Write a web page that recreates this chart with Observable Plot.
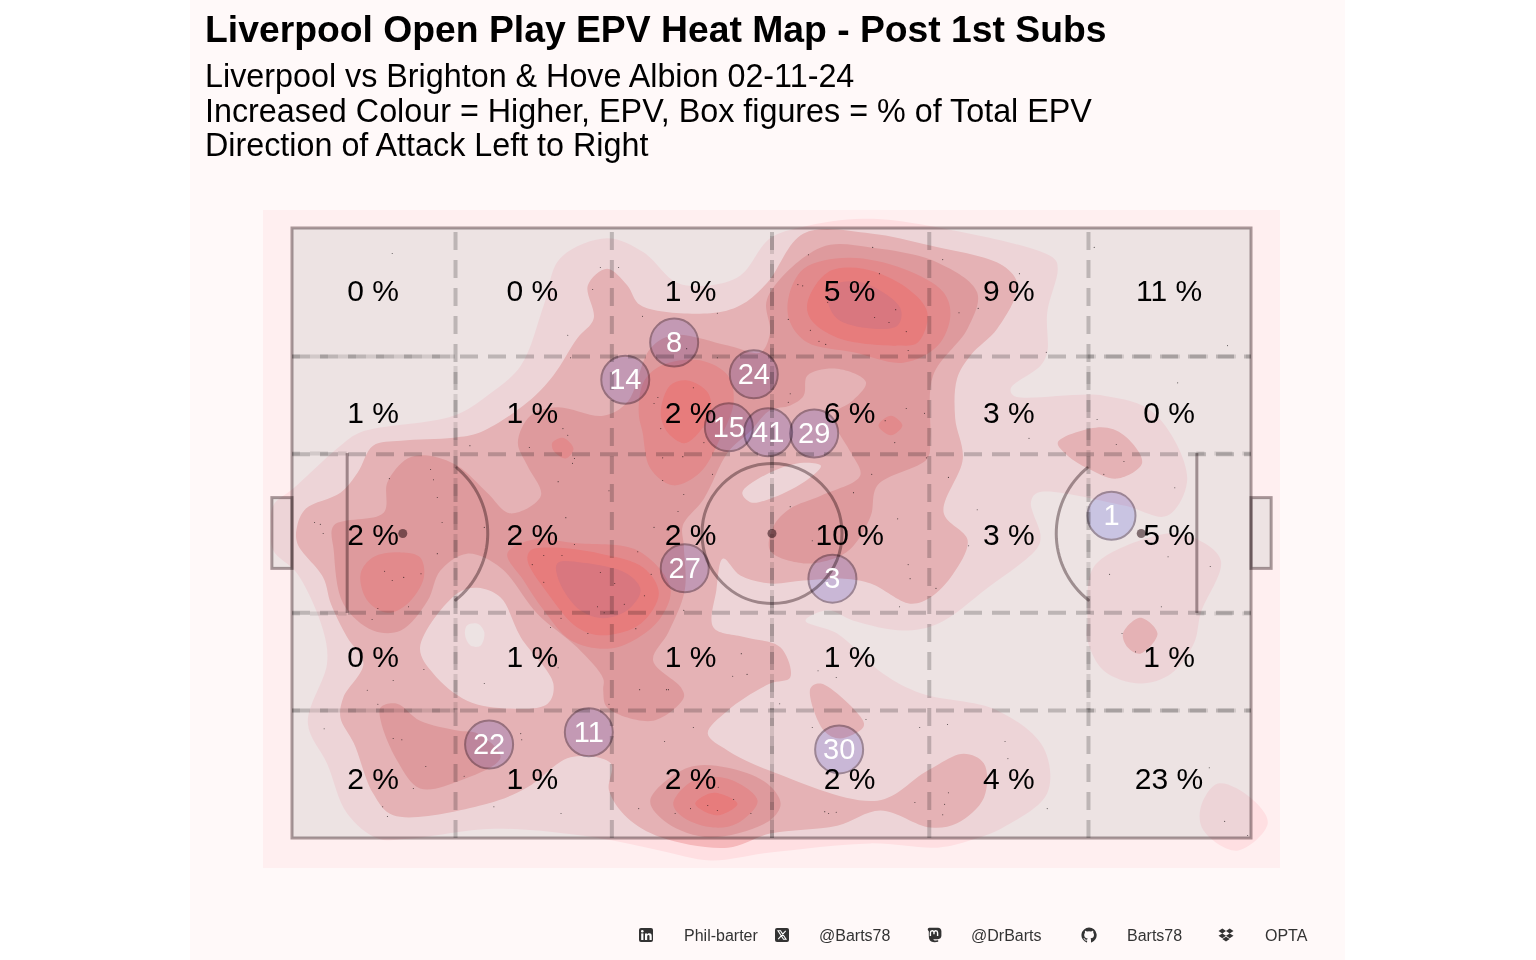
<!DOCTYPE html>
<html><head><meta charset="utf-8">
<script src="https://cdn.jsdelivr.net/npm/d3@7"></script>
<script src="https://cdn.jsdelivr.net/npm/@observablehq/plot@0.6"></script>
<style>
html,body{margin:0;padding:0;background:#fff;overflow:hidden}
#panel{position:absolute;left:190px;top:0;width:1155px;height:960px;background:#fff9f9;font-family:"Liberation Sans",Arial,sans-serif;color:#000}
.t{position:absolute;white-space:nowrap}
#title{left:15px;top:9px;font-size:37.3px;font-weight:700;line-height:40px}
.sub{left:15px;font-size:32.3px;line-height:36px}
.cap{font-size:16px;color:#333;top:927px;line-height:18px}
.ico{position:absolute;top:927px;width:16px;height:16px}
#chart{position:absolute;left:73px;top:210px}
</style></head><body>
<div id="panel">
<div class="t" id="title">Liverpool Open Play EPV Heat Map - Post 1st Subs</div>
<div class="t sub" style="top:58px">Liverpool vs Brighton &amp; Hove Albion 02-11-24</div>
<div class="t sub" style="top:93px">Increased Colour = Higher, EPV, Box figures = % of Total EPV</div>
<div class="t sub" style="top:127px">Direction of Attack Left to Right</div>
<div id="chart"></div>
<svg class="ico" style="left:448px" viewBox="0 0 16 16"><rect x="1" y="1" width="14" height="14" rx="2" fill="#333"/><rect x="3.2" y="6.4" width="2.2" height="6.6" fill="#fff"/><circle cx="4.3" cy="4.3" r="1.3" fill="#fff"/><path d="M7 6.4h2.1v1c.4-.7 1.2-1.2 2.2-1.2 2 0 2.4 1.3 2.4 3V13h-2.2V9.700c0-.8 0-1.700-1.100-1.700s-1.200.8-1.200 1.600V13H7z" fill="#fff"/></svg>
<span class="t cap" style="left:494px">Phil-barter</span>
<svg class="ico" style="left:584px" viewBox="0 0 16 16"><rect x="1" y="1" width="14" height="14" rx="2" fill="#333"/><path d="M4 3.800h2.500l5.500 8.400H9.500zM11.700 3.800l-7.500 8.400" stroke="#fff" stroke-width="1.100" fill="none"/></svg>
<span class="t cap" style="left:629px">@Barts78</span>
<svg class="ico" style="left:736px" viewBox="0 0 16 16"><path d="M4 .8h8c2 0 3.400 1.400 3.400 3.400v4.600c0 2-1.500 3.200-3.500 3.400-1.800.2-3.200.2-4.500 0 .1 1 1.300 1.500 4.800 1.100v1.500c-4.300.9-8 .3-9-2.800-.3-1.300-.4-2.600-.4-4V4.200C.8 2.200 2 .8 4 .8z" fill="#333"/><path d="M4.400 9V5.800c0-2.600 3.600-2.800 3.600-.2v1.600-1.600c0-2.600 3.600-2.400 3.600.2V9" stroke="#fff" stroke-width="1.400" fill="none"/></svg>
<span class="t cap" style="left:781px">@DrBarts</span>
<svg class="ico" style="left:891px" viewBox="0 0 16 16"><path d="M8 .6a7.600 7.600 0 0 0-2.400 14.800c.4.1.5-.2.5-.4v-1.400c-2.100.5-2.600-.9-2.600-.9-.3-.9-.8-1.100-.8-1.100-.7-.5.1-.5.1-.5.8.1 1.200.8 1.200.8.7 1.200 1.800.8 2.200.6.100-.5.300-.8.500-1-1.700-.2-3.500-.8-3.500-3.700 0-.8.300-1.500.8-2-.1-.2-.3-1 .1-2 0 0 .6-.2 2.100.8a7 7 0 0 1 3.800 0c1.500-1 2.100-.8 2.100-.8.4 1 .2 1.800.1 2 .5.500.8 1.200.8 2 0 2.900-1.800 3.500-3.500 3.700.3.200.5.700.5 1.400V15c0 .2.100.5.500.4A7.600 7.600 0 0 0 8 .6z" fill="#333"/></svg>
<span class="t cap" style="left:937px">Barts78</span>
<svg class="ico" style="left:1028px" viewBox="0 0 16 16"><path d="M4.300 1.500 0.500 4l3.800 2.400L8 4zM11.700 1.500 8 4l3.700 2.400L15.500 4zM.5 8.800l3.800 2.500L8 8.800 4.300 6.400zM11.700 6.400 8 8.800l3.700 2.500 3.800-2.500zM4.300 12.100 8 14.600l3.700-2.500L8 9.700z" fill="#333"/></svg>
<span class="t cap" style="left:1075px">OPTA</span>
</div>
<script>
// ---- density contour outlines (pitch units, 0-100) ----
const level1Main=[[-2,54.6],[.1,57.4],[5,64.4],[7.1,66.6],[16.8,69.3],[20.3,72.6],[23.8,77.5],[26.2,87.4],[27.9,95.1],[32.8,98.4],[36.6,96.1],[40.1,91.1],[43.6,90.7],[46.7,92.3],[49.8,98.4],[53.3,100.3],[59.5,101.6],[66.2,100.5],[79.4,95.1],[79.8,93.4],[78.7,86.2],[78.7,79.7],[78,77.5],[74.9,73.8],[75.2,72.6],[84.6,72.6],[89.8,69.8],[93.3,59],[91.2,52.9],[86.7,54.6],[77.7,56.7],[77,55.1],[78,49.7],[77.7,47.7],[72.5,41.1],[67.3,35.2],[63.7,34.1],[58.5,35.7],[55.8,37.4],[53.5,35.7],[56.8,33.6],[61.6,27],[65.5,23.8],[73.5,21],[78.3,14.9],[78.7,7.4],[74.1,1.8],[70.7,-.3],[67.3,-1.5],[60.3,-.8],[49.8,-2.3],[43.6,-3.6],[38.4,-2],[31.4,.2],[21,1.6],[12.3,0],[8.9,0],[5.7,4.1],[3.6,12.3],[1.6,18.9],[3.6,28.7],[3.2,34.1],[.5,43.4],[-2,47.2],[-2.2,50.8]];
const level1Right=[[82.9,35.7],[83.2,43.4],[84.6,46.1],[91.2,50],[94,49.3],[96.8,45.6],[94.7,36.9],[94,32],[91.6,27],[88.4,25.4],[84.6,27.5],[82.9,32.5]];
const level1Corner=[[96.5,9],[99.9,6.7],[101.7,2.5],[98.5,-2],[95,1.3],[94.7,5.1]];
const level2Main=[[.5,51.3],[1.4,54.1],[5,56.7],[6.8,60],[8.4,64.4],[11.3,65.2],[16.8,65.7],[19.6,66.6],[24.5,71.5],[27.2,75.9],[29.7,82],[31.4,85.2],[30.8,90.7],[32.8,93.4],[34.9,90.7],[36.3,87.4],[43.6,86.1],[46.7,87.4],[49.5,91.1],[53.3,99.2],[60.3,99.2],[66.5,97.2],[74.1,93.9],[75.6,90.7],[73.5,83.6],[70.7,79.2],[69.3,75.4],[69.1,68.9],[69.9,62.3],[67.9,53.4],[70.4,48.9],[68.9,43.4],[66.5,39.5],[64.4,38.5],[60.3,41.8],[57.5,42.6],[53.3,42.3],[49.8,41.8],[46.7,43.1],[44.9,45.9],[44.2,40.7],[43.9,34.6],[47.2,33],[50.9,31.3],[51.9,26.4],[49.8,25.4],[45.4,21],[43.3,17.2],[45.4,14.4],[49.8,11.1],[61,6.2],[66.2,11.1],[70,13.9],[72.1,12.3],[72.1,6.7],[69.3,2.5],[66.5,1.8],[61.3,4.6],[56.8,2.1],[49.8,.8],[45.4,-1.5],[38.4,.2],[34.9,3.4],[33,7.9],[33.2,12.3],[29,13.3],[24.5,8.4],[20.3,5.7],[10.5,3.8],[8.4,7.4],[6.4,15.6],[5,19.8],[5.3,23.1],[7.4,28.7],[5.7,33],[4,38.5],[3.2,42.8],[.5,48.4]];
const level2Wing=[[79.8,64.9],[84.3,67.4],[86.7,66.1],[88.6,61.6],[86,59],[82.9,60.7],[80.8,62.8]];
const level2Spot=[[86.6,33.6],[88.4,36.2],[90.2,33.6],[88.4,30.3],[87.1,31.3]];
const level2Lower=[[54,24.6],[55.1,25.4],[59.5,19.3],[59.5,18.2],[57.1,16.4],[55.4,17.7]];
const level2HoleLeft=[[13.3,31.3],[17.2,40.2],[19.3,41.1],[21.7,39.5],[23.8,33],[27.2,25.4],[26.6,22.1],[22.7,21.3],[18.2,22.6],[14.7,27]];
const level2HoleCentre=[[46.9,56.7],[49.8,60],[53.3,61.6],[55.1,61.1],[53.3,58.4],[49.8,55.7],[47.8,55.1]];
const level1Hole=[[18.2,34.9],[19.3,35.2],[20,33.8],[19.6,31.6],[18.6,31.6],[18,33.3]];
const level3Main=[[4.3,51.3],[9.5,53.4],[9.9,58.4],[12,62.3],[14.1,62.8],[17.2,61.1],[20.3,56.7],[22.7,53.3],[25.9,56.2],[24.5,61.1],[23.5,64.9],[24.8,69.3],[27.6,70.7],[32.4,69.3],[34.9,71.5],[37.3,80.3],[39.7,82.5],[45.4,80.8],[48.8,79.7],[49.8,82.9],[49.5,88.5],[55.1,96.9],[60.3,96.9],[67.3,94.4],[71.4,89.5],[70.4,83.6],[66.8,75.9],[66.5,65.6],[66.2,62.3],[61,57.9],[60.3,52.9],[58.5,48],[56.8,46.1],[53.3,45.1],[49.8,47.2],[50.2,51.3],[51.9,54.1],[55.1,56.2],[59.2,59.5],[58.2,63.3],[56.9,66.9],[56.6,69.8],[58.2,71.5],[59.8,74.8],[56.8,77],[53.7,75.9],[53.3,72.6],[51.9,71],[49.8,70.2],[47.8,66.9],[45.4,63.3],[42.9,55.7],[40.7,51.3],[40.8,48],[40.9,40.7],[39.2,33.8],[37.6,29.2],[40.5,24.8],[40.8,23.1],[37.6,19.3],[32.8,21.5],[32.4,24.3],[32.4,26.2],[29.7,31.3],[25.5,36.9],[21.7,44.4],[18.2,46.7],[15.4,43.9],[14.1,39],[11.3,34.1],[8.4,34.1],[5.3,38.5],[4.3,47.2]];
const level3Wide=[[9.2,21.5],[10.9,22.1],[13.3,19.3],[17.2,17.7],[19.3,17.2],[21.7,13.3],[17.5,9.5],[13.3,8.2],[10.9,12.8],[9.2,19.3]];
const level3Low=[[37.3,6.2],[41.2,11.6],[45.4,11.6],[49.5,9],[50.9,5.7],[49.8,3],[43.6,.2],[39.1,2.5]];
const level4Top=[[51.7,88.5],[53.3,93.4],[57.9,95.2],[63.7,93.4],[67.9,89.5],[68.6,85.7],[67.3,80.8],[63.7,78],[58.5,79.7],[53.7,81.3],[51.9,84.6]];
const level4Dot=[[61.1,67.7],[62.4,69.3],[63.6,67.7],[62.4,66.1]];
const level4Mid=[[36.1,69.8],[36.6,74.8],[38.4,77.5],[42.5,78.4],[45.4,75.9],[46,71.5],[44.6,65.6],[42.5,60],[39.7,57.9],[37.3,60.7],[36.5,66.6]];
const level4Small=[[27.1,64.9],[28.2,65.7],[29.3,63.9],[28.5,62.3],[27.2,63.6]];
const level4Centre=[[22.4,46.7],[24.8,48.9],[29.7,48.4],[36,47.2],[39.4,41.1],[38.4,36.2],[35.6,32.5],[32.8,31.1],[29,32.5],[26.2,37.4],[24.1,42.3]];
const level4Box=[[7.1,43.4],[8.4,46.1],[11.3,46.9],[13.3,46.1],[13.7,42.8],[12,38.5],[9.9,37],[7.8,39]];
const level4Low=[[39.7,5.7],[41.8,9.5],[45.4,9.8],[48.5,6.2],[46.4,2.5],[43.9,1.8],[40.8,3.4]];
const level5Top=[[53.7,87.9],[55.8,92.8],[59.5,93.4],[64.1,90.2],[66.2,86.2],[65.2,81.3],[63.1,80.8],[56.8,82.1],[54,85.2]];
const level5Mid=[[38.4,69.8],[39.4,74.3],[41.2,75.1],[43.3,73.1],[43.6,69.8],[41.8,65.6],[40.8,64.8],[39.1,66.6]];
const level5Centre=[[24.8,47.2],[26.9,47.7],[32.1,46.7],[36.6,44.4],[38.2,40.2],[36.3,35.2],[32.4,33.3],[29.7,34.6],[26.6,40.2],[24.5,45.6]];
const level5Low=[[42,5.7],[43.9,7.5],[46.4,5.7],[44.3,3.8]];
const level6Top=[[55.8,88.5],[56.4,90.7],[59.5,91.1],[63.4,86.9],[63.1,84.1],[60.3,83.6],[56.8,85.2]];
const level6Centre=[[27.6,45.1],[30.3,45.2],[34.9,43.4],[36.3,40.7],[34.9,37.4],[32.4,36.1],[30,37.4],[27.9,41.8]];

const eventDots=[[10.4,95.9],[32.1,93.6],[34,93.6],[31.3,90],[36.5,85.6],[44.3,86.1],[28.7,82.5],[29,78.8],[44.3,78.8],[18.5,64.4],[24.7,64.1],[28.2,67.2],[28.7,66.1],[38.1,72.3],[37.7,71.3],[41.8,73.9],[38.4,67.2],[42.9,64.9],[38.6,62.4],[40.7,62.6],[43.8,59.7],[38.6,58.7],[40.8,56.4],[40.2,53.6],[37.7,51],[29.4,62.3],[29.2,61.5],[27.7,58.5],[33,57],[28.5,52.6],[14.4,60.5],[14.7,58.8],[10.1,59],[15.1,55.9],[15.6,51.8],[20,51],[2.3,51.8],[2.9,51.5],[3.2,50],[41.1,80.3],
[53.8,95.7],[60.5,96.9],[67.8,94.9],[75.8,92.6],[83.6,96.9],[52.7,90.8],[53.2,90.6],[61.2,92.6],[55.8,87.9],[62.9,86.7],[60.7,85.4],[69.5,86.2],[71.5,86.9],[51.7,85.1],[62.2,84.6],[54,83.3],[64,83.1],[54.9,81.5],[55.6,81],[64.2,80],[78.6,79.7],[97.5,80.8],[92.3,74.7],[51.9,72.9],[51.7,71.5],[64,70.5],[65.9,69.7],[61.8,68.5],[62.8,64.9],[76.8,65.6],[83.9,68.7],[85.9,64.6],[86.7,61.8],[84.6,59.7],[92,57.5],[66.1,62.4],[60.4,59.7],[68.4,59.2],[58.5,56.7],[71.4,53.9],[63.1,52.4],[51.9,54.4],[54.2,48.8],
[15.1,46.7],[9.6,43.8],[13.4,43.4],[11.6,42.8],[10.4,42.3],[8.9,37.7],[12.1,38],[8.3,35.9],[29.4,48.2],[36,47],[25,44.9],[26.2,46.4],[28.1,46.4],[32.1,43.6],[33.6,41.8],[37.4,43.3],[26.2,42],[36.7,39.8],[34.6,38.4],[31.8,38],[32.5,37],[28,36.1],[26.9,34.6],[35.8,34.4],[30.8,33.6],[40.8,37.4],[46.8,30.3],[45.9,26.6],[47.4,26.9],[36.2,24.4],[39,24.4],[39.2,24.4],[27.7,28],[20,25.4],[13.7,27.7],[10.5,25.9],[7.8,24.3],[8.9,22],[3.3,18],[10.5,16.4],[11.4,16.2],[13.9,11.8],[23.8,17.2],[23.9,16.2],[33,22],[41.8,18.2],[38.8,15.9],[17.9,10.2],[12.6,8.2],[9.4,5.2],[9.9,3.6],[21,5.2],[28,4.1],[36.1,4.9],[44.4,8.4],[46,6.4],[43.3,5.4],[41.5,4.9],[44.3,4.6],[47.8,4.1],[39.9,4.1],[50.8,22.1],
[70.5,48],[64.2,44.9],[64.4,42.6],[67.1,41],[63.3,38],[91.3,46.2],[95.7,44.6],[85.2,43.3],[90.6,38],[86.5,33.6],[87.9,30.6],[54.8,27.5],[56.7,26.4],[59.8,19.5],[54.2,18.2],[65.4,18.2],[68.3,18.7],[74.3,15.9],[74.6,13.1],[95.6,11.6],[68.4,7.5],[64.9,5.9],[68,5.6],[67.8,3.9],[55.5,4.4],[55.9,4.1],[56.7,4.3],[78.7,4.9],[97.2,2.8],[99.6,.5]];

// ---- box figures ----
const boxX=[8.4,25,41.5,58.1,74.7,91.4];
const boxY=[90,70,50,30,10];
const boxPct=[[0,0,1,5,9,11],[1,1,2,6,3,0],[2,2,2,10,3,5],[0,1,1,1,null,1],[2,1,2,2,4,23]];

// ---- players ----
const shirtNumbers=[8,14,24,15,41,29,1,27,3,22,11,30];
const shirtX=[39.8,34.7,48.1,45.5,49.6,54.4,85.4,40.9,56.3,20.5,30.9,57];
const shirtY=[81.3,75.2,76.1,67.4,66.6,66.4,52.9,44.3,42.6,15.4,17.4,14.6];

// ---- pitch geometry (Opta units) ----
const gridXs=[17,33.3,50,66.4,83];
const gridYs=[79,63,37,21];
const spots=[[11.5,50],[50,50],[88.5,50]];
const arcDegrees=d3.range(-51.5,51.6,3);
const arcRx=8.86, arcRy=13.93;

const L0="#ffeff0",L1="#ffdfe2",L2="#f6b8bb",L3="#ee9da0",L4="#f38a8d",L5="#f97a7a",L6="#e9757e";
const layers=[
 [level1Main,L1],[level1Right,L1],[level1Corner,L1],
 [level2Main,L2],[level2Wing,L2],[level2Spot,L2],[level2Lower,L2],
 [level2HoleLeft,L1],[level2HoleCentre,L1],[level1Hole,L0],
 [level3Main,L3],[level3Wide,L3],[level3Low,L3],
 [level4Top,L4],[level4Dot,L4],[level4Mid,L4],[level4Small,L4],[level4Centre,L4],[level4Box,L4],[level4Low,L4],
 [level5Top,L5],[level5Mid,L5],[level5Centre,L5],[level5Low,L5],
 [level6Top,L6],[level6Centre,L6]
];
const contourMarks=layers.map(([pts,color])=>Plot.line(pts,{x:d=>d[0],y:d=>d[1],fill:color,stroke:"none",curve:"catmull-rom-closed"}));

const lineStyle={stroke:"#aaa0a2",strokeWidth:3,mixBlendMode:"multiply"};
const boxes=[{x1:0,x2:100,y1:0,y2:100},{x1:-2.1,x2:0,y1:44.2,y2:55.8},{x1:100,x2:102.1,y1:44.2,y2:55.8}];
const boxCells=boxPct.flatMap((row,j)=>row.map((v,i)=>({x:boxX[i],y:boxY[j],v}))).filter(d=>d.v!==null);
const players=shirtNumbers.map((n,i)=>({n,x:shirtX[i],y:shirtY[i]}));
const arcLeft=arcDegrees.map(a=>({x:11.5+arcRx*Math.cos(a*Math.PI/180),y:50+arcRy*Math.sin(a*Math.PI/180)}));
const arcRight=arcDegrees.map(a=>({x:88.5-arcRx*Math.cos(a*Math.PI/180),y:50+arcRy*Math.sin(a*Math.PI/180)}));
const dash={stroke:"#ccc",strokeWidth:4,strokeDasharray:"18,10",mixBlendMode:"multiply"};
const dash2={...dash,strokeDashoffset:10,stroke:"#e2e2e2"};

const chart=Plot.plot({
 width:1017,height:658,margin:0,
 style:{background:L0,fontFamily:"Liberation Sans, Arial, sans-serif"},
 x:{domain:[0,100],range:[29,988],axis:null},
 y:{domain:[0,100],range:[628,18],axis:null},
 marks:[
  ...contourMarks,
  Plot.rect(boxes,{x1:"x1",x2:"x2",y1:"y1",y2:"y2",fill:"#698b8c",fillOpacity:.12,inset:0}),
  Plot.rect(boxes,{x1:"x1",x2:"x2",y1:"y1",y2:"y2",fill:"none",...lineStyle,inset:0}),
  Plot.ruleX([5.7,94.3],{y1:36.9,y2:63.1,...lineStyle}),
  Plot.dot([[50,50]],{x:d=>d[0],y:d=>d[1],r:70,fill:"none",...lineStyle}),
  Plot.line(arcLeft,{x:"x",y:"y",...lineStyle}),
  Plot.line(arcRight,{x:"x",y:"y",...lineStyle}),
  Plot.ruleX(gridXs,{y1:0,y2:100,...dash}),
  Plot.ruleY(gridYs,{x1:0,x2:100,...dash}),
  Plot.ruleX([17,50,83],{y1:21,y2:79,...dash2}),
  Plot.ruleX([50],{y1:0,y2:21,...dash2}),
  Plot.ruleX([50],{y1:79,y2:100,...dash2}),
  Plot.ruleY([21,79],{x1:0,x2:17,...dash2}),
  Plot.ruleY([21,79],{x1:83,x2:100,...dash2}),
  Plot.ruleY([36.9,63.1],{x1:0,x2:5.7,...dash2}),
  Plot.ruleY([36.9,63.1],{x1:94.3,x2:100,...dash2}),
  Plot.dot(spots,{x:d=>d[0],y:d=>d[1],r:4.5,fill:"#8a7a7e",mixBlendMode:"multiply"}),
  Plot.dot(eventDots,{x:d=>d[0],y:d=>d[1],r:.55,fill:"#000",fillOpacity:.65,stroke:"none"}),
  Plot.text(boxCells,{x:"x",y:"y",dy:2,text:d=>d.v+" %",fontSize:30,fill:"#000",textAnchor:"middle",lineAnchor:"middle"}),
  Plot.dot(players,{x:"x",y:"y",r:24,fill:"#d9dcfe",stroke:"#a8a0b0",strokeWidth:2,mixBlendMode:"multiply"}),
  Plot.text(players,{x:"x",y:"y",text:d=>String(d.n),fontSize:29,fill:"#fff",textAnchor:"middle",lineAnchor:"middle"})
 ]
});
document.getElementById("chart").appendChild(chart);
</script>
</body></html>
